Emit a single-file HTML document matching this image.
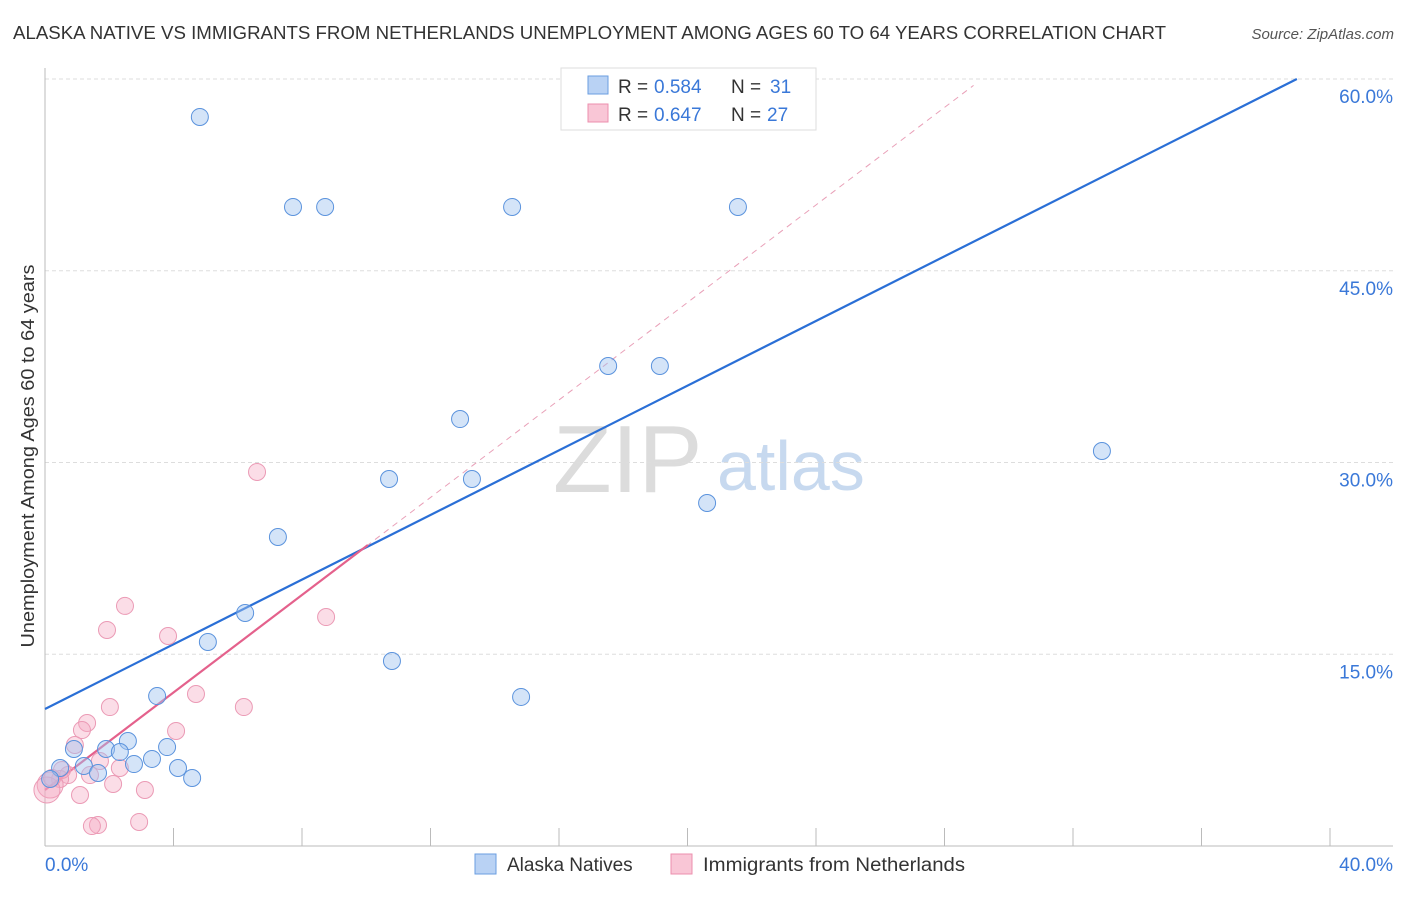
<!DOCTYPE html>
<html><head><meta charset="utf-8"><style>
body{margin:0;background:#fff;font-family:"Liberation Sans",sans-serif}
svg text{font-family:"Liberation Sans",sans-serif}
</style></head><body>
<svg id="chart" width="1406" height="892" viewBox="0 0 1406 892">
<text x="13" y="39" font-size="18" fill="#333" textLength="1153" lengthAdjust="spacingAndGlyphs">ALASKA NATIVE VS IMMIGRANTS FROM NETHERLANDS UNEMPLOYMENT AMONG AGES 60 TO 64 YEARS CORRELATION CHART</text>
<text x="1394" y="39" font-size="15" fill="#555" text-anchor="end" font-style="italic">Source: ZipAtlas.com</text>
<text x="34" y="456" font-size="18" fill="#333" text-anchor="middle" textLength="383" lengthAdjust="spacingAndGlyphs" transform="rotate(-90 34 456)">Unemployment Among Ages 60 to 64 years</text>
<text x="553" y="492" font-size="96" fill="#dcdcdc" font-family="Liberation Serif">ZIP</text>
<text x="717" y="490" font-size="70" fill="#c7d9ef">atlas</text>
<g id="grid"></g><g id="axes"></g><g id="lines"></g><g id="pts"></g>
<g>
<rect x="561" y="68" width="255" height="62" fill="#fff" stroke="#ddd"/>
<rect x="588" y="76" width="20" height="18" fill="#b9d2f4" stroke="#6a9ee0"/>
<rect x="588" y="104" width="20" height="18" fill="#f9c6d6" stroke="#ec8fae"/>
<text x="618" y="93" font-size="19" fill="#333">R =</text>
<text x="654" y="93" font-size="19" fill="#3a78d8">0.584</text>
<text x="731" y="93" font-size="19" fill="#333">N =</text>
<text x="770" y="93" font-size="19" fill="#3a78d8">31</text>
<text x="618" y="121" font-size="19" fill="#333">R =</text>
<text x="654" y="121" font-size="19" fill="#3a78d8">0.647</text>
<text x="731" y="121" font-size="19" fill="#333">N =</text>
<text x="767" y="121" font-size="19" fill="#3a78d8">27</text>
</g>
<g>
<rect x="475" y="854" width="21" height="20" fill="#b9d2f4" stroke="#6a9ee0"/>
<text x="507" y="871" font-size="19" fill="#333">Alaska Natives</text>
<rect x="671" y="854" width="21" height="20" fill="#f9c6d6" stroke="#ec8fae"/>
<text x="703" y="871" font-size="19" fill="#333" textLength="262" lengthAdjust="spacingAndGlyphs">Immigrants from Netherlands</text>
</g>
</svg>
<script>
const blueX=[4.82,7.72,8.72,14.54,21.57,17.53,19.14,12.92,32.90,10.71,13.29,20.61,7.25,6.23,5.07,10.80,14.82,3.49,2.58,0.90,1.90,2.33,3.80,3.33,2.77,1.21,0.47,4.14,1.65,4.58,0.16];
const blueY=[57.03,49.99,49.99,49.99,49.99,37.55,37.55,33.40,30.90,28.71,28.71,26.83,24.17,18.23,15.96,14.47,11.66,11.73,8.21,7.59,7.59,7.35,7.74,6.81,6.41,6.26,6.10,6.10,5.71,5.32,5.24];
const pinkX=[6.60,2.49,1.93,8.75,3.83,4.70,2.02,6.19,4.08,1.31,1.15,0.93,1.71,2.33,0.72,1.40,0.47,2.12,3.11,1.09,1.65,1.46,2.93,0.16,0.06,0.22,0.53];
const pinkY=[29.26,18.78,16.90,17.91,16.43,11.89,10.87,10.87,9.00,9.62,9.07,7.90,6.65,6.10,5.55,5.55,5.24,4.85,4.38,3.99,1.64,1.56,1.88,4.77,4.38,5.32,5.95];
const yTicks=[15,30,45,60];
const xTickLabels=["0.0%","40.0%"];
const blueFit=[10.72,1.2646];
const pinkFit=[4.38,1.907];
const X=v=>45+v*(1285/40), Y=v=>846-v*(767/60);
const NS="http://www.w3.org/2000/svg";
function mk(p,t,a){const e=document.createElementNS(NS,t);for(const k in a)e.setAttribute(k,a[k]);document.getElementById(p).appendChild(e);return e;}
yTicks.forEach(t=>{
 const l=mk('grid','line',{x1:45,x2:1393,y1:Y(t),y2:Y(t),stroke:'#ddd','stroke-dasharray':'4 3'});
 
 
 const tx=mk('grid','text',{x:1393,y:Y(t)+24,'font-size':19,fill:'#3a78d8','text-anchor':'end'});
 tx.textContent=t.toFixed(1)+'%';
 
 
});
const ax=mk('axes','line',{x1:45,x2:45,y1:68,y2:846,stroke:'#bbb'});


const bx=mk('axes','line',{x1:45,x2:1393,y1:846,y2:846,stroke:'#bbb'});


for(let i=0;i<=10;i++){const t=mk('axes','line',{x1:X(i*4),x2:X(i*4),y1:828,y2:846,stroke:'#bbb'});
 
 }
[[0,45,'start'],[40,1393,'end']].forEach((d,i)=>{const t=mk('axes','text',{x:d[1],y:871,'font-size':19,fill:'#3a78d8','text-anchor':d[2]});t.textContent=xTickLabels[i];
 
 });
const bEnd=(60-blueFit[0])/blueFit[1];
const bl=mk('lines','line',{x1:X(0),y1:Y(blueFit[0]),x2:X(bEnd),y2:Y(60),stroke:'#2a6fd6','stroke-width':2.2});


const pEnd=(59.5-pinkFit[0])/pinkFit[1];
const pd=mk('lines','line',{x1:X(10),y1:Y(pinkFit[0]+10*pinkFit[1]),x2:X(pEnd),y2:Y(59.5),stroke:'#e9a0b8','stroke-width':1,'stroke-dasharray':'6 5'});


const pl=mk('lines','line',{x1:X(0),y1:Y(pinkFit[0]),x2:X(10.05),y2:Y(pinkFit[0]+10.05*pinkFit[1]),stroke:'#e4618c','stroke-width':2.2});


pinkX.forEach((x,i)=>{const c=mk('pts','circle',{cx:X(x),cy:Y(pinkY[i]),r:i>=23&&i<=24?13:8.5,fill:'rgba(246,170,195,0.4)',stroke:'#eb9ab5','stroke-width':1});
 
 });
blueX.forEach((x,i)=>{const c=mk('pts','circle',{cx:X(x),cy:Y(blueY[i]),r:8.5,fill:'rgba(160,196,240,0.45)',stroke:'#5b93dd','stroke-width':1});
 
 });
</script>
</body></html>
